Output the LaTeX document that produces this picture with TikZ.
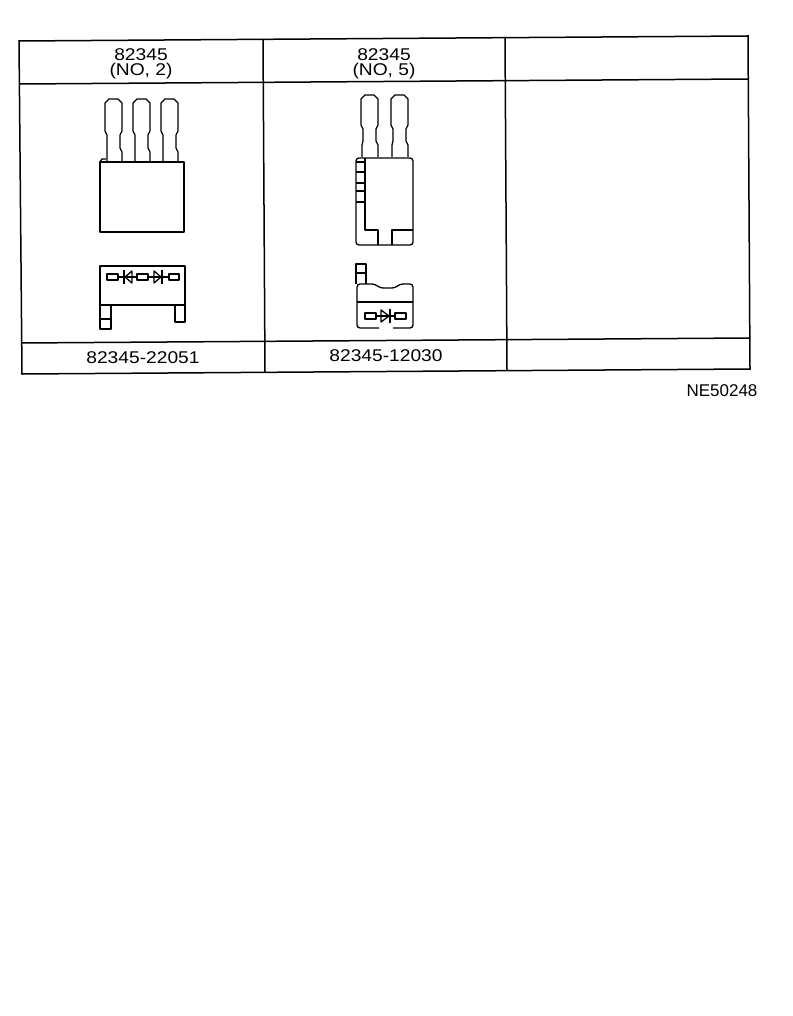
\documentclass[tikz,border=0pt]{standalone}
\usepackage{fontspec}
\setmainfont[FakeStretch=1.13]{Liberation Sans}
\newfontfamily\codefont{Liberation Sans}
\tikzset{
  frameline/.style={line width=1.5pt, black},
  partline/.style={line width=1.3pt, black, line join=round},
  label/.style={inner sep=0pt, font=\fontsize{17}{17}\selectfont},
  codelabel/.style={inner sep=0pt, font=\codefont\fontsize{17}{17}\selectfont}
}

\begin{document}
\begin{tikzpicture}[x=1pt, y=-1pt]

  \useasboundingbox (0, 0) rectangle (792, 1016);

  %% table frame
  \draw[frameline] (19, 41) -- (748, 36) -- (750, 369) -- (22, 374) -- cycle;
  \draw[frameline] (20, 84) -- (748, 79);
  \draw[frameline] (21, 343) -- (750, 338);
  \draw[frameline] (263, 39) -- (265, 372);
  \draw[frameline] (505, 37) -- (507, 370);

  %% table texts
  \node[label] (headA) at (141, 55) {82345};
  \node[label] (subA) at (141, 71.5) {(NO, 2)};
  \node[label] (headB) at (384, 55) {82345};
  \node[label] (subB) at (384, 71.5) {(NO, 5)};
  \node[label] (partA) at (143, 358) {82345-22051};
  \node[label] (partB) at (386, 356) {82345-12030};
  \node[codelabel] (code) at (722, 391) {NE50248};

  %% first relay, three pins
  \foreach \x in {105, 133, 161} {
    \draw[partline] (\x+2, 162) -- (\x+2, 135) -- (\x, 131) -- (\x, 103)
      -- (\x+4, 99) -- (\x+13, 99) -- (\x+17, 103) -- (\x+17, 131)
      -- (\x+15, 135) -- (\x+15, 148) -- (\x+17, 152) -- (\x+17, 162);
  }
  \draw[partline] (100, 162) rectangle (184, 232);
  \draw[partline] (100, 162) -- (102, 159) -- (106, 159);

  %% first relay, bottom view
  \draw[partline] (100, 266) rectangle (185, 305);
  \draw[partline] (100, 305) rectangle (111, 329);
  \draw[partline] (100, 319) -- (111, 319);
  \draw[partline] (175, 305) rectangle (185, 322);
  \draw[partline] (107, 274) rectangle (118, 280);
  \draw[partline] (118, 277) -- (137, 277);
  \draw[partline] (124, 270) -- (124, 284);
  \draw[partline] (125, 277) -- (132, 271) -- (132, 283) -- cycle;
  \draw[partline] (137, 274) rectangle (148, 280);
  \draw[partline] (148, 277) -- (169, 277);
  \draw[partline] (154, 271) -- (161, 277) -- (154, 283) -- cycle;
  \draw[partline] (162, 270) -- (162, 284);
  \draw[partline] (169, 274) rectangle (179, 280);

  %% second relay, two pins
  \foreach \x in {361, 391} {
    \draw[partline] (\x+1, 157) -- (\x+1, 145) -- (\x+2, 141) -- (\x+2, 129)
      -- (\x, 125) -- (\x, 99) -- (\x+4, 95) -- (\x+13, 95) -- (\x+17, 99)
      -- (\x+17, 125) -- (\x+15, 129) -- (\x+15, 141) -- (\x+17, 145) -- (\x+17, 157);
  }
  \draw[partline, rounded corners=3pt] (356, 158) rectangle (413, 245);
  \draw[partline] (365, 158) -- (365, 230) -- (378, 230) -- (378, 245);
  \draw[partline] (392, 245) -- (392, 230) -- (413, 230);
  \foreach \y in {162, 172, 183, 191, 202} {
    \draw[partline] (356, \y) -- (365, \y);
  }

  %% second relay, bottom view
  \draw[partline] (356, 284) -- (356, 264) -- (366, 264) -- (366, 284);
  \draw[partline] (356, 273) -- (366, 273);
  \draw[partline, rounded corners=3pt] (379, 328) -- (357, 328) -- (357, 284) -- (375, 284)
    -- (380, 288) -- (395, 288) -- (400, 284) -- (413, 284) -- (413, 328) -- (393, 328);
  \draw[partline] (357, 302) -- (413, 302);
  \draw[partline] (365, 313) rectangle (376, 319);
  \draw[partline] (376, 316) -- (395, 316);
  \draw[partline] (381, 310) -- (389, 316) -- (381, 322) -- cycle;
  \draw[partline] (390, 309) -- (390, 323);
  \draw[partline] (395, 313) rectangle (406, 319);

\end{tikzpicture}
\end{document}
